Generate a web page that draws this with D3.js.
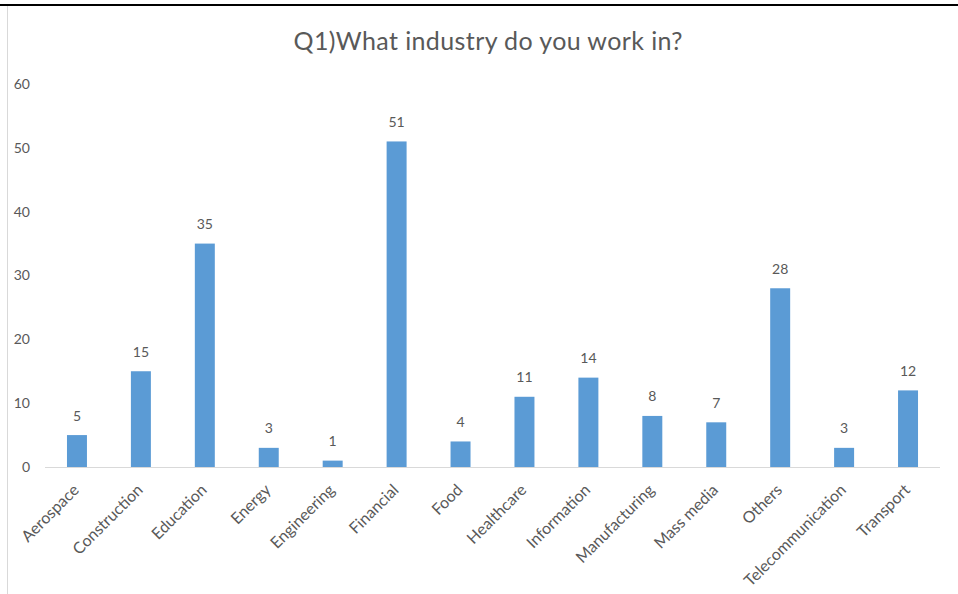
<!DOCTYPE html>
<html>
    <head>
        <script src="https://d3js.org/d3.v7.min.js"></script>
        <style>
            body { margin: 0; background: #fff; }
            text { font-family: Lato, "Open Sans", sans-serif; fill: #595959; }
        </style>
    </head>

    <body>
        <div id = "target"></div>

        <script>
            var industries = ['Aerospace', 'Construction', 'Education', 'Energy', 'Engineering', 'Financial', 'Food',
                              'Healthcare', 'Information', 'Manufacturing', 'Mass media', 'Others', 'Telecommunication', 'Transport'];
            var counts = [5, 15, 35, 3, 1, 51, 4, 11, 14, 8, 7, 28, 3, 12];
            var yTicks = [0, 10, 20, 30, 40, 50, 60];
            var title = 'Q1)What industry do you work in?';

            var W = 958, H = 594;
            var graph = d3.select('#target')
                        .append('svg')
                        .attr('width', W)
                        .attr('height', H);

            // frame bits from the screenshot
            graph.append('line')
                .attr('x1', 0).attr('x2', W).attr('y1', 5).attr('y2', 5)
                .attr('stroke', '#000').attr('stroke-width', 2);
            graph.append('line')
                .attr('x1', 7.5).attr('x2', 7.5).attr('y1', 6).attr('y2', H)
                .attr('stroke', '#d9d9d9').attr('stroke-width', 1);

            graph.append('text')
                .attr('x', 488)
                .attr('y', 50)
                .attr('text-anchor', 'middle')
                .style('font-size', '25px')
                .attr('textLength', 389)
                .attr('lengthAdjust', 'spacing')
                .text(title);

            var x = d3.scaleBand()
                .domain(industries)
                .range([45, 940])
                .paddingInner(0.6875)
                .paddingOuter(0.34375);

            var y = d3.scaleLinear()
                .domain([0, 60])
                .range([467, 84]);

            // y tick labels (no axis line)
            graph.append('g')
                .selectAll('text')
                .data(yTicks)
                .enter()
                .append('text')
                .attr('x', 30)
                .attr('y', function(d){ return y(d); })
                .attr('dy', '0.35em')
                .attr('text-anchor', 'end')
                .style('font-size', '14px')
                .text(function(d){ return d; });

            graph.append('g')
                .selectAll('rect')
                .data(counts)
                .enter()
                .append('rect')
                .attr('x', function(d, i){ return x(industries[i]); })
                .attr('y', function(d){ return y(d); })
                .attr('width', x.bandwidth())
                .attr('height', function(d){ return y(0) - y(d); })
                .attr('fill', '#5b9bd5');

            // baseline
            graph.append('line')
                .attr('x1', 45).attr('x2', 940)
                .attr('y1', y(0) + 0.5).attr('y2', y(0) + 0.5)
                .attr('stroke', '#d9d9d9').attr('stroke-width', 1);

            // value labels
            graph.append('g')
                .selectAll('text')
                .data(counts)
                .enter()
                .append('text')
                .attr('x', function(d, i){ return x(industries[i]) + x.bandwidth() / 2; })
                .attr('y', function(d){ return y(d) - 14.5; })
                .attr('text-anchor', 'middle')
                .style('font-size', '14px')
                .text(function(d){ return d; });

            // category labels, rotated
            graph.append('g')
                .selectAll('text')
                .data(industries)
                .enter()
                .append('text')
                .attr('text-anchor', 'end')
                .style('font-size', '16px')
                .attr('transform', function(d){
                    return 'translate(' + (x(d) + x.bandwidth() / 2 + 3) + ',' + 491 + ')rotate(-45)';
                })
                .text(function(d){ return d; });
        </script>
    </body>
</html>
